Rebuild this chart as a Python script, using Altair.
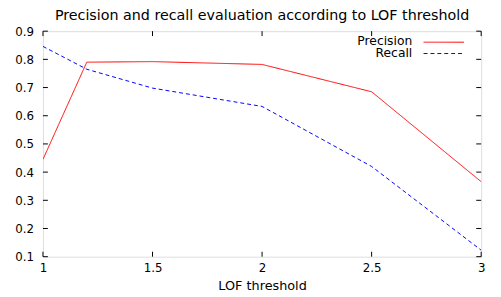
import altair as alt
import pandas as pd

# ---- data ----
title_text = ["Precision and recall evaluation according to LOF threshold"]
thresholds = [1, 1.2, 1.5, 2, 2.5, 3]
precision = [0.445, 0.79, 0.792, 0.782, 0.685, 0.366]
recall = [0.846, 0.765, 0.698, 0.633, 0.42, 0.123]
series_names = ["Precision", "Recall"]
series_colors = ["#ff0000", "#0000ff"]
x_ticks = [1, 1.5, 2, 2.5, 3]
y_ticks = [0.1, 0.2, 0.3, 0.4, 0.5, 0.6, 0.7, 0.8, 0.9]

W, H = 445, 229
TICK = 5
FONT = "DejaVu Sans"

df = pd.DataFrame({
    "LOF threshold": thresholds * 2,
    "value": precision + recall,
    "series": ["Precision"] * len(thresholds) + ["Recall"] * len(thresholds),
})
xt = pd.DataFrame({"t": x_ticks})
yt = pd.DataFrame({"t": y_ticks})

xscale = alt.Scale(domain=[1, 3], nice=False, zero=False)
yscale = alt.Scale(domain=[0.1, 0.9], nice=False, zero=False)
color_scale = alt.Scale(domain=series_names, range=series_colors)
dash_scale = alt.Scale(domain=series_names, range=[[1, 0], [4, 3]])

x_axis = alt.Axis(values=x_ticks, title="LOF threshold", ticks=False,
                  domain=False, grid=False, format="~g",
                  labelBaseline="alphabetic", labelPadding=15,
                  labelFontSize=12, titleFontSize=13, titleFontWeight="normal",
                  titleBaseline="alphabetic", titleY=33.4,
                  labelFont=FONT, titleFont=FONT, labelOverlap=False,
                  labelColor="#000", titleColor="#000", labelFlush=False)
y_axis = alt.Axis(values=y_ticks, title=None, ticks=False, domain=False,
                  grid=False, labelPadding=9.5, labelFontSize=12,
                  labelOverlap=False, labelFlush=False, labelBound=False,
                  labelFont=FONT, labelColor="#000", format=".1f")

lines = alt.Chart(df).mark_line(strokeWidth=1, clip=True).encode(
    x=alt.X("LOF threshold:Q", scale=xscale, axis=x_axis),
    y=alt.Y("value:Q", scale=yscale, axis=y_axis),
    color=alt.Color("series:N", scale=color_scale, legend=None),
    strokeDash=alt.StrokeDash("series:N", scale=dash_scale, legend=None),
)

tick_layers = [
    alt.Chart(xt).mark_rule(color="#000", strokeWidth=1).encode(
        x=alt.X("t:Q", scale=xscale, axis=x_axis), y=alt.value(H), y2=alt.value(H - TICK)),
    alt.Chart(xt).mark_rule(color="#000", strokeWidth=1).encode(
        x=alt.X("t:Q", scale=xscale, axis=x_axis), y=alt.value(0), y2=alt.value(TICK)),
    alt.Chart(yt).mark_rule(color="#000", strokeWidth=1).encode(
        y=alt.Y("t:Q", scale=yscale, axis=y_axis), x=alt.value(0), x2=alt.value(TICK)),
    alt.Chart(yt).mark_rule(color="#000", strokeWidth=1).encode(
        y=alt.Y("t:Q", scale=yscale, axis=y_axis), x=alt.value(W), x2=alt.value(W - TICK)),
]

legend_layers = []
legend_text_y = [13.7, 26.0]
legend_line_y = [11.2, 22.7]
for name, ty, ly in zip(series_names, legend_text_y, legend_line_y):
    ldf = pd.DataFrame({"series": [name]})
    legend_layers.append(
        alt.Chart(ldf).mark_text(align="right", baseline="alphabetic", fontSize=12.5,
                                 font=FONT, color="#000").encode(
            text="series:N", x=alt.value(375), y=alt.value(ty)))
    legend_layers.append(
        alt.Chart(ldf).mark_rule(strokeWidth=1).encode(
            x=alt.value(386.5), x2=alt.value(427.5), y=alt.value(ly),
            color=alt.Color("series:N", scale=color_scale, legend=None),
            strokeDash=alt.StrokeDash("series:N", scale=dash_scale, legend=None)))

title_layer = alt.Chart(pd.DataFrame({"title": title_text})).mark_text(
    align="center", baseline="alphabetic", fontSize=14.5, font=FONT, color="#000"
).encode(text="title:N", x=alt.value(W / 2), y=alt.value(-11.5))

chart = alt.layer(lines, *tick_layers, *legend_layers, title_layer).properties(
    width=W, height=H,
    autosize=alt.AutoSizeParams(type="none"),
    padding={"left": 35.5, "top": 21.3, "right": 12, "bottom": 38},
).configure_view(stroke="#000", strokeWidth=1).configure(background="white")

chart.save("out.html", embed_options={"renderer": "svg", "actions": False})
